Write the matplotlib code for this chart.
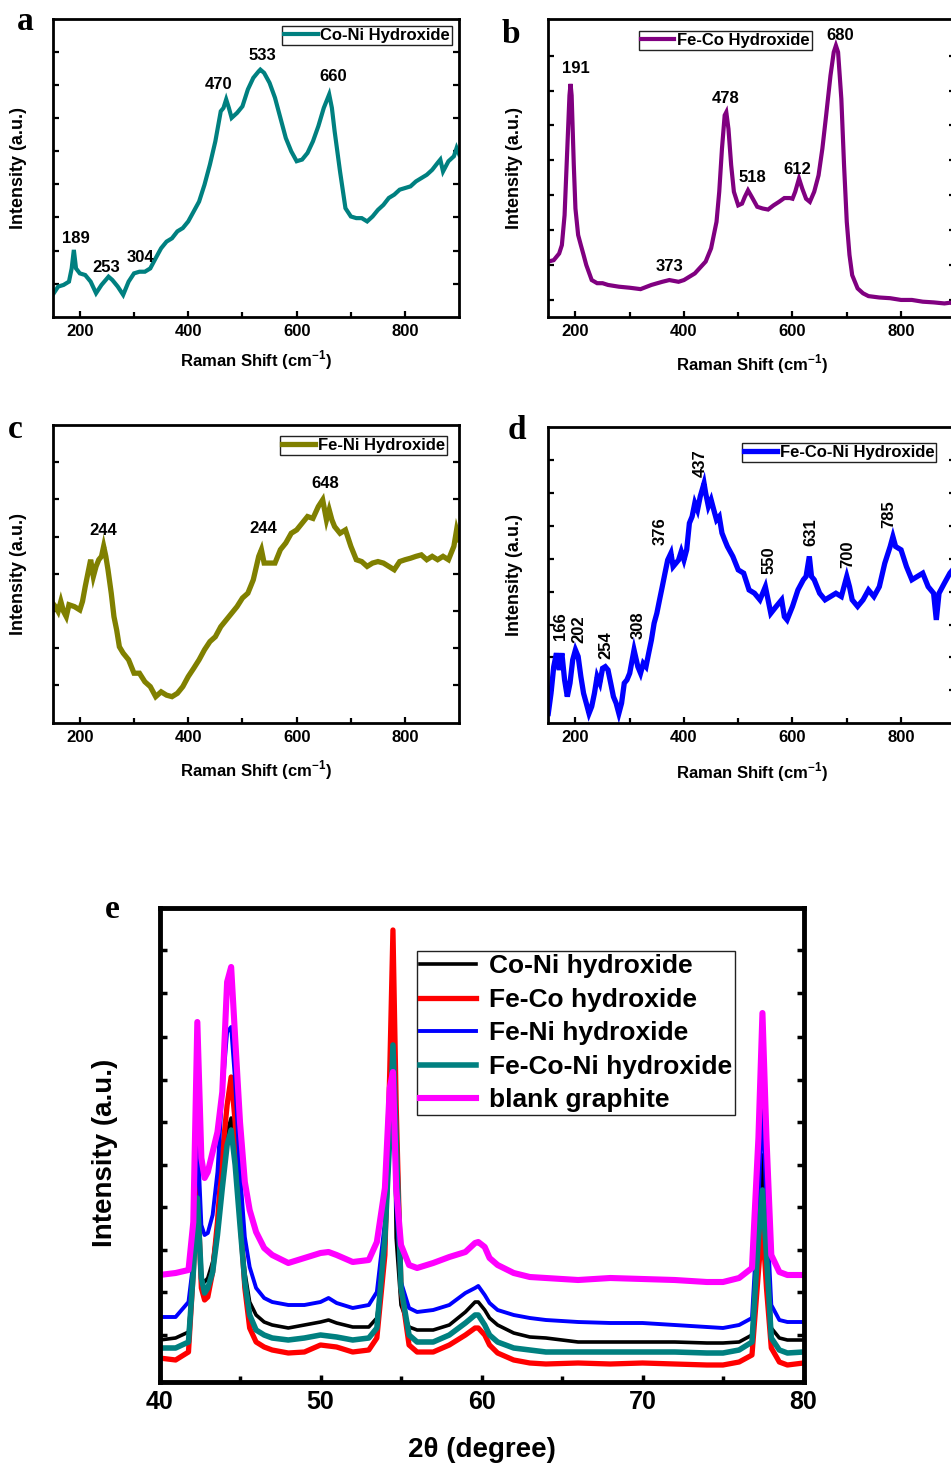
import matplotlib
matplotlib.use('Agg')
import matplotlib.pyplot as plt
from matplotlib.ticker import FixedLocator, NullFormatter

plt.rcParams['font.family'] = ['Liberation Sans', 'DejaVu Sans']
plt.rcParams['font.weight'] = 'bold'
plt.rcParams['mathtext.fontset'] = 'custom'
plt.rcParams['mathtext.rm'] = 'Liberation Sans:bold'
plt.rcParams['mathtext.bf'] = 'Liberation Sans:bold'

# ---------------- data: Raman panels ----------------
a_x = [150,160,170,180,185,189,193,200,210,220,230,240,253,260,270,280,290,300,
       310,320,330,340,350,360,370,380,390,400,410,420,430,440,450,460,465,470,475,480,
       490,500,510,520,530,533,540,550,560,570,580,590,600,610,620,630,640,650,660,665,
       670,680,690,700,710,720,730,740,750,760,770,780,790,800,810,820,830,840,850,860,
       865,870,880,890,895,900]
a_y = [0.66,0.91,0.96,1.06,1.46,2.02,1.46,1.31,1.26,1.06,0.71,0.96,1.21,1.11,0.91,0.66,1.06,1.31,
       1.36,1.36,1.46,1.77,2.07,2.27,2.37,2.58,2.68,2.88,3.18,3.48,3.99,4.6,5.3,6.21,6.31,6.57,6.31,6.01,
       6.16,6.36,6.87,7.22,7.42,7.47,7.37,7.07,6.62,6.01,5.4,5.0,4.7,4.75,4.95,5.3,5.76,6.31,6.72,6.31,
       5.61,4.39,3.28,3.03,2.98,2.98,2.88,3.03,3.23,3.38,3.59,3.69,3.84,3.89,3.94,4.09,4.19,4.29,4.44,4.65,
       4.75,4.39,4.7,4.85,5.1,4.9]
a_peaks = ['189', '253', '304', '470', '533', '660']
a_peak_xy = [(192, 2.35), (249, 1.5), (312, 1.78), (456, 7.02), (537, 7.9), (668, 7.26)]

b_x = [150,160,170,175,180,185,189,191,193,197,200,205,210,215,220,230,240,250,260,280,
       300,320,340,360,373,390,400,420,440,450,460,465,470,475,478,482,487,492,500,507,
       512,518,525,535,545,555,565,575,585,595,600,605,612,618,625,632,640,648,655,662,
       670,676,680,684,690,695,700,705,710,720,730,740,760,780,800,820,840,860,880,890,900]
b_y = [2.1,2.14,2.33,2.57,3.43,5.33,6.86,7.19,6.86,4.86,3.62,2.86,2.57,2.29,2.0,1.57,1.48,1.48,1.43,1.38,
       1.35,1.31,1.43,1.52,1.57,1.52,1.57,1.76,2.1,2.48,3.24,4.1,5.33,6.29,6.38,5.9,4.86,4.1,3.71,3.76,
       3.95,4.14,3.95,3.67,3.62,3.59,3.71,3.81,3.92,3.92,3.9,4.1,4.48,4.19,3.9,3.81,4.1,4.57,5.33,6.29,
       7.43,8.1,8.29,8.1,6.76,4.86,3.24,2.29,1.71,1.33,1.19,1.11,1.07,1.05,1.0,1.0,0.95,0.93,0.9,0.92,0.9]
b_peaks = ['191', '373', '478', '518', '612', '680']
b_peak_xy = [(200, 7.63), (373, 1.97), (476, 6.77), (526, 4.51), (609, 4.74), (688, 8.57)]

c_x = [150,155,160,165,170,175,180,190,200,205,210,215,220,225,230,235,240,244,248,252,258,263,268,273,
       280,290,300,310,320,330,340,350,360,370,380,390,400,410,420,430,440,450,460,470,480,490,500,510,
       520,530,535,540,550,560,570,580,590,600,610,620,630,640,648,655,660,665,670,680,690,700,710,720,
       730,740,750,760,770,780,790,800,810,820,830,840,850,860,870,880,890,895,900]
c_y = [3.21,3.12,2.99,3.26,2.99,2.85,3.17,3.12,3.03,3.26,3.66,4.02,4.38,3.93,4.2,4.38,4.47,4.74,4.47,4.11,3.48,2.85,2.49,2.04,
       1.87,1.69,1.33,1.33,1.1,0.97,0.7,0.83,0.74,0.7,0.79,0.97,1.24,1.46,1.69,1.96,2.18,2.31,2.58,2.76,2.94,3.12,3.35,3.48,
       3.84,4.47,4.65,4.29,4.29,4.29,4.65,4.83,5.09,5.18,5.36,5.54,5.49,5.81,5.99,5.45,5.72,5.45,5.27,5.09,5.18,4.74,4.38,4.33,
       4.2,4.29,4.33,4.29,4.2,4.11,4.33,4.38,4.42,4.47,4.51,4.38,4.47,4.38,4.47,4.38,4.74,5.18,4.92]
c_peaks = ['244', '244', '648']
c_peak_xy = [(244, 5.16), (538, 5.21), (652, 6.42)]

d_x = [150,155,160,165,170,175,180,185,190,195,200,205,210,215,220,225,230,235,240,245,
       250,255,260,265,270,275,280,285,290,295,300,308,315,320,325,330,335,340,345,350,
       355,360,365,370,376,380,385,390,395,400,405,410,415,420,425,430,437,440,445,450,
       455,460,465,470,475,480,490,500,510,520,530,540,550,555,560,570,580,585,590,600,
       610,620,625,631,635,640,650,660,670,680,690,700,705,710,720,730,740,750,760,770,
       780,785,790,800,810,820,830,840,850,860,865,870,880,890,900]
d_y = [0.3,0.91,1.72,2.13,1.62,2.13,1.32,0.81,1.22,1.93,2.23,2.03,1.42,0.91,0.61,0.3,0.51,0.91,1.42,1.22,
       1.67,1.72,1.62,1.22,0.81,0.61,0.3,0.61,1.22,1.32,1.52,2.23,1.72,1.52,1.82,1.72,2.13,2.53,3.04,3.34,
       3.75,4.15,4.56,4.96,5.17,4.76,4.86,4.96,5.22,4.96,5.27,6.08,6.28,6.69,6.48,6.89,7.29,6.99,6.59,6.79,
       6.48,6.18,6.28,5.78,5.57,5.37,5.07,4.66,4.56,4.05,3.95,3.75,4.15,3.75,3.34,3.55,3.75,3.24,3.14,3.55,
       4.05,4.36,4.46,5.07,4.46,4.36,3.95,3.75,3.85,3.95,3.85,4.46,4.15,3.75,3.55,3.75,4.05,3.85,4.15,4.86,
       5.37,5.67,5.37,5.27,4.76,4.36,4.46,4.56,4.15,3.95,3.14,3.95,4.26,4.56,4.76]
d_peaks = ['166', '202', '254', '308', '376', '437', '550', '631', '700', '785']
d_peak_xy = [(172, 2.95), (207, 2.86), (257, 2.38), (316, 2.99), (356, 5.84),
             (430, 7.91), (557, 4.96), (634, 5.81), (701, 5.12), (778, 6.36)]

# ---------------- data: XRD panel e ----------------
e_x = [40,41,41.8,42.1,42.35,42.6,42.8,43.0,43.3,43.6,43.9,44.2,44.45,44.7,45.0,45.3,45.6,46,46.5,47,
       48,49,50,50.5,51,52,53,53.5,54,54.3,54.5,54.7,55,55.5,56,57,58,59,59.6,59.8,
       60.2,60.5,61,62,63,64,66,68,70,72,74,75,76,76.8,77.2,77.45,77.7,78,78.5,79,80]
e_coni = [42,44,50,110,190,104,100,104,120,157,210,250,264,224,160,110,80,67,60,57,
          54,57,60,62,59,55,55,64,127,244,370,144,77,55,52,52,57,70,80,80,
          72,64,57,49,45,44,40,40,40,40,39,39,40,47,144,227,144,54,44,42,42]
e_feco = [24,22,30,110,197,94,82,85,110,160,227,277,305,260,167,94,54,40,35,32,
          29,30,37,36,35,30,32,44,127,310,452,277,94,37,30,30,37,47,54,54,
          47,37,29,22,19,18,19,18,19,18,17,17,20,27,110,160,94,34,20,17,19]
e_feni = [65,65,80,120,250,157,147,149,167,210,290,350,355,300,210,145,115,94,84,80,
          77,77,80,84,79,74,77,90,160,264,290,177,100,74,70,72,77,89,94,96,
          87,79,72,67,64,62,60,59,59,57,55,54,57,64,177,284,177,77,62,60,60]
e_feconi = [34,34,40,110,184,104,89,94,110,147,194,237,252,217,157,100,67,52,47,44,
            42,44,47,46,45,42,44,54,144,244,337,244,94,47,40,40,47,59,67,67,
            57,47,40,34,32,30,30,30,30,30,29,29,32,40,144,192,127,44,32,29,30]
e_graph = [107,109,112,160,360,224,204,210,230,250,290,400,415,344,260,200,172,150,134,127,
           119,124,129,130,127,120,122,140,194,294,310,194,137,117,114,119,125,130,139,140,
           135,124,117,109,105,104,102,104,103,102,100,100,104,114,244,369,244,127,110,107,107]
e_labels = ['Co-Ni hydroxide', 'Fe-Co hydroxide', 'Fe-Ni hydroxide', 'Fe-Co-Ni hydroxide', 'blank graphite']
e_colors = ['black', '#ff0000', '#0000ff', '#008080', '#ff00ff']
e_xticks = [40, 50, 60, 70, 80]

W, H = 951, 1469
fig = plt.figure(figsize=(W / 100, H / 100), dpi=100)


def raman(rect, x, y, color, label, ylim, yticks, leg_loc, leg_anchor, peaks, peak_xy,
          rotate, xlab_y, ylab_x, lw):
    ax = fig.add_axes(rect)
    ax.plot(x, y, color=color, lw=lw, label=label, solid_joinstyle='miter')
    ax.set_xlim(150, 900)
    ax.set_ylim(*ylim)
    ax.xaxis.set_major_locator(FixedLocator([200, 400, 600, 800]))
    ax.xaxis.set_minor_locator(FixedLocator([300, 500, 700]))
    ax.yaxis.set_major_locator(FixedLocator(yticks))
    ax.yaxis.set_major_formatter(NullFormatter())
    ax.tick_params(which='both', direction='in', width=1.6, top=False, right=True)
    ax.tick_params(which='major', length=4)
    ax.tick_params(which='minor', length=3.5)
    ax.tick_params(axis='x', labelsize=12, pad=5)
    for lab in ax.get_xticklabels():
        lab.set_fontweight('bold')
    for s in ax.spines.values():
        s.set_linewidth(2.0)
    for t, (px, py) in zip(peaks, peak_xy):
        ax.text(px, py, t, fontsize=12, fontweight='bold', ha='center', va='center',
                rotation=90 if rotate else 0)
    leg = ax.legend(loc=leg_loc, bbox_to_anchor=leg_anchor, borderaxespad=0,
                    handlelength=2.0, handletextpad=0.15, borderpad=0.12,
                    prop={'size': 12, 'weight': 'bold'}, fancybox=False,
                    edgecolor='#222222', framealpha=1)
    leg.get_frame().set_linewidth(1.0)
    ax.set_xlabel(r'Raman Shift (cm$^{\mathbf{-1}}$)', fontsize=12, fontweight='bold')
    ax.xaxis.set_label_coords(0.5, xlab_y)
    ax.xaxis.label.set_va('center')
    ax.set_ylabel('Intensity (a.u.)', fontsize=13, fontweight='bold')
    ax.yaxis.set_label_coords(ylab_x, 0.5)
    ax.yaxis.label.set_va('center')
    return ax


def rect(l, t, r, b):
    return [l / W, 1 - b / H, (r - l) / W, (b - t) / H]


raman(rect(52.7, 19, 459.3, 316.7), a_x, a_y, '#008080', 'Co-Ni Hydroxide', (0, 9),
      [1, 2, 3, 4, 5, 6, 7, 8], 'upper right', (0.982, 0.977), a_peaks, a_peak_xy,
      False, -0.145, -0.085, 3.0)
raman(rect(548.3, 19, 955.3, 316.7), b_x, b_y, '#800080', 'Fe-Co Hydroxide', (0.52, 9.05),
      [1, 2, 3, 4, 5, 6, 7, 8], 'upper left', (0.223, 0.96), b_peaks, b_peak_xy,
      False, -0.159, -0.082, 3.0)
raman(rect(52.7, 425, 459.3, 722.7), c_x, c_y, '#808000', 'Fe-Ni Hydroxide', (0, 8),
      [1, 2, 3, 4, 5, 6, 7], 'upper right', (0.97, 0.963), c_peaks, c_peak_xy,
      False, -0.159, -0.085, 3.8)
raman(rect(548.3, 427, 955.3, 723.3), d_x, d_y, '#0000ff', 'Fe-Co-Ni Hydroxide', (0, 9),
      [1, 2, 3, 4, 5, 6, 7, 8], 'upper left', (0.476, 0.947), d_peaks, d_peak_xy,
      True, -0.165, -0.082, 3.8)

# panel letters
for letter, (px, py) in zip(['a', 'b', 'c', 'd', 'e'],
                            [(17, 30), (502, 43), (8, 438), (508, 439), (105, 918)]):
    fig.text(px / W, 1 - py / H, letter, fontsize=24, fontweight='bold',
             family=['Liberation Serif', 'DejaVu Serif'], ha='left', va='baseline')

# ---------------- panel e ----------------
axe = fig.add_axes(rect(159.5, 908, 803.5, 1382))
e_series = [e_coni, e_feco, e_feni, e_feconi, e_graph]
e_lw = [2.6, 3.8, 2.8, 4.0, 4.4]
for ys, c, lab, lw in zip(e_series, e_colors, e_labels, e_lw):
    axe.plot(e_x, ys, color=c, lw=lw, label=lab)
axe.set_xlim(40, 80)
axe.set_ylim(0, 474)
axe.xaxis.set_major_locator(FixedLocator(e_xticks))
axe.xaxis.set_minor_locator(FixedLocator([45, 55, 65, 75]))
axe.yaxis.set_major_locator(FixedLocator([47, 90, 132, 175, 217, 260, 302, 345, 389, 432]))
axe.yaxis.set_major_formatter(NullFormatter())
axe.tick_params(which='both', direction='in', width=2.5, top=False, right=True)
axe.tick_params(which='major', length=5)
axe.tick_params(which='minor', length=4)
axe.tick_params(axis='x', labelsize=18, pad=6)
for lab in axe.get_xticklabels():
    lab.set_fontweight('bold')
for s in axe.spines.values():
    s.set_linewidth(3.5)
leg = axe.legend(loc='upper left', bbox_to_anchor=(0.40, 0.909), borderaxespad=0,
                 handlelength=2.1, handletextpad=0.5, borderpad=0.12, labelspacing=0.36,
                 prop={'size': 19, 'weight': 'bold'}, fancybox=False,
                 edgecolor='#222222', framealpha=1)
leg.get_frame().set_linewidth(1.0)
axe.set_xlabel('2θ (degree)', fontsize=20, fontweight='bold')
axe.xaxis.set_label_coords(0.5, -0.143)
axe.xaxis.label.set_va('center')
axe.set_ylabel('Intensity (a.u.)', fontsize=20, fontweight='bold')
axe.yaxis.set_label_coords(-0.085, 0.483)
axe.yaxis.label.set_va('center')

fig.savefig('out.png', dpi=100)
